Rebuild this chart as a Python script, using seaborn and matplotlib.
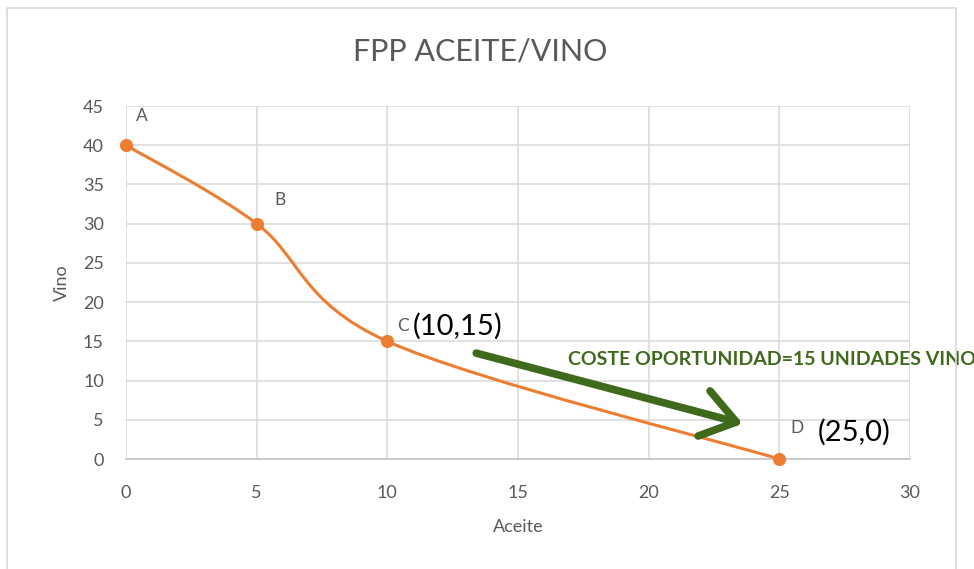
""" FPP Aceite/Vino chart """

import numpy as np
import seaborn as sns
import pandas as pd
from matplotlib import pyplot as plt
from matplotlib.path import Path
from matplotlib.patches import PathPatch, Rectangle

# Data
aceite = [0, 5, 10, 25]
vino = [40, 30, 15, 0]
point_names = ['A', 'B', 'C', 'D']
coord_labels = {'C': '(10,15)', 'D': '(25,0)'}
x_ticks = [0, 5, 10, 15, 20, 25, 30]
y_ticks = [0, 5, 10, 15, 20, 25, 30, 35, 40, 45]
arrow_start = (13.4, 13.5)
arrow_end = (23.6, 4.5)
note = 'COSTE OPORTUNIDAD=15 UNIDADES VINO'

ORANGE = '#ED7D31'
GRAY = '#595959'
GREEN = '#3F6A1C'


def smooth_path(xs, ys):
    """ Excel-like smoothed line: Catmull-Rom segments as cubic Beziers """
    pts = np.column_stack([xs, ys]).astype(float)
    n = len(pts)
    verts = [pts[0]]
    codes = [Path.MOVETO]
    for i in range(n - 1):
        p0 = pts[i - 1] if i > 0 else pts[i]
        p1 = pts[i]
        p2 = pts[i + 1]
        p3 = pts[i + 2] if i + 2 < n else pts[i + 1]
        c1 = p1 + (p2 - p0) / 6.
        c2 = p2 - (p3 - p1) / 6.
        verts += [c1, c2, p2]
        codes += [Path.CURVE4] * 3
    return Path(verts, codes)


def fig_fpp(outfile='out.png'):
    sns.set_theme(style='white')
    plt.rcParams['font.family'] = ['Lato', 'DejaVu Sans']

    df = pd.DataFrame({'Aceite': aceite, 'Vino': vino, 'name': point_names})

    fig = plt.figure(figsize=(9.74, 5.69), dpi=100)
    ax = fig.add_axes([0.1294, 0.1933, 0.8049, 0.6204])

    # Outer chart frame
    fig.patches.append(Rectangle((0.007, -0.02), 0.975, 1.006,
                                 transform=fig.transFigure, fill=False,
                                 edgecolor='#D9D9D9', lw=1.2))

    # Smoothed line + markers
    ax.add_patch(PathPatch(smooth_path(aceite, vino), facecolor='none',
                           edgecolor=ORANGE, lw=2.2, zorder=3))
    sns.scatterplot(data=df, x='Aceite', y='Vino', ax=ax, color=ORANGE,
                    s=90, edgecolor=ORANGE, linewidth=0, zorder=4,
                    clip_on=False)

    # Point labels
    offsets = {'A': (7, 21), 'B': (13, 17), 'C': (7, 11), 'D': (8, 22)}
    for _, row in df.iterrows():
        ax.annotate(row['name'], (row['Aceite'], row['Vino']),
                    xytext=offsets[row['name']], textcoords='offset points',
                    color=GRAY, fontsize=12.5, ha='left', va='center')
    ax.annotate(coord_labels['C'], (10, 15), xytext=(18, 11),
                textcoords='offset points', color='black', fontsize=21,
                ha='left', va='center')
    ax.annotate(coord_labels['D'], (25, 0), xytext=(28, 19),
                textcoords='offset points', color='black', fontsize=21,
                ha='left', va='center')

    # Opportunity cost arrow
    ax.annotate('', xy=arrow_end, xytext=arrow_start,
                arrowprops=dict(arrowstyle='->,head_length=2.0,head_width=1.4',
                                color=GREEN, lw=5.5, shrinkA=0, shrinkB=0))
    ax.text(16.9, 12.7, note, color=GREEN, fontsize=14, fontweight='bold',
            ha='left', va='center', clip_on=False)

    # Axes
    ax.set_xlim(0, 30)
    ax.set_ylim(0, 45)
    ax.set_xticks(x_ticks)
    ax.set_yticks(y_ticks)
    ax.grid(True, color='#D9D9D9', lw=1.1)
    for side in ['top', 'right', 'left']:
        ax.spines[side].set_visible(False)
    ax.spines['bottom'].set_color('#BFBFBF')
    ax.spines['bottom'].set_linewidth(1.1)
    ax.tick_params(axis='both', colors=GRAY, labelsize=13, length=0)
    ax.tick_params(axis='y', pad=16)
    ax.tick_params(axis='x', pad=19)
    ax.set_xlabel('Aceite', color=GRAY, fontsize=13, labelpad=13)
    ax.set_ylabel('Vino', color=GRAY, fontsize=13, labelpad=9)
    fig.text(480 / 974, 1 - 52 / 569, 'FPP ACEITE/VINO', color=GRAY,
             fontsize=22, ha='center', va='center')

    plt.savefig(outfile, dpi=100)
    print(f"Saved: {outfile}")


if __name__ == '__main__':
    fig_fpp()
